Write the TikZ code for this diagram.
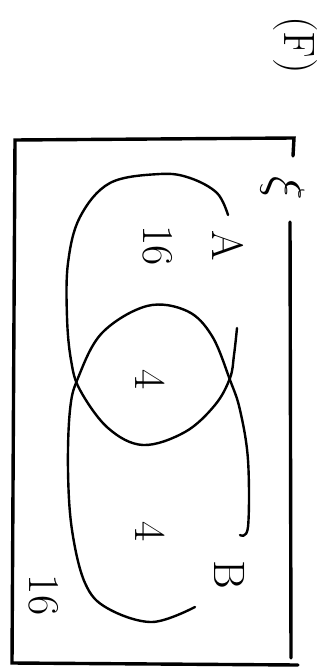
\documentclass[tikz,border=0pt]{standalone}
\tikzset{
  pen/.style={line width=1.2pt,line cap=round,line join=round},
  boxpen/.style={line width=1.7pt,line cap=round},
  lab/.style={rotate=-90,inner sep=0pt,font=\fontsize{22}{22}\selectfont}
}
\begin{document}
\begin{tikzpicture}[x=0.5pt,y=-0.5pt]
\useasboundingbox (0,0) rectangle (334,667);
% universal set box, open on the right for the label
\draw[boxpen] (293,156) -- (294,138) -- (15,140) -- (12,663) -- (298,665);
\draw[boxpen] (290,222) -- (291,658);
% set A
\draw[pen] plot[smooth,tension=0.6] coordinates {(228,215) (217,193) (190,178) (160,174) (110,183) (80,217)
  (68,263) (67,317) (71,360) (80,390) (108,428) (143,445) (185,432) (215,405) (230,378)
  (234,355) (237,328)};
% set B
\draw[pen] plot[smooth,tension=0.6] coordinates {(195,607) (152,622) (107,608) (85,583) (72,530) (68,470)
  (70,410) (78,378) (102,333) (147,306) (187,311) (212,336) (230,380) (240,410) (248,460)
  (248,527) (240,535)};
% labels
\node[lab] (onlyA) at (158,246) {16};
\node[lab] (nameA) at (228,246) {A};
\node[lab] (both) at (150,380) {4};
\node[lab] (onlyB) at (150,532) {4};
\node[lab] (nameB) at (230,575) {B};
\node[lab] (outside) at (44,595) {16};
\node[lab,font=\fontsize{26}{26}\selectfont] (univ) at (283,188) {$\xi$};
\node[lab] (part) at (295,45) {(F)};
\end{tikzpicture}
\end{document}
